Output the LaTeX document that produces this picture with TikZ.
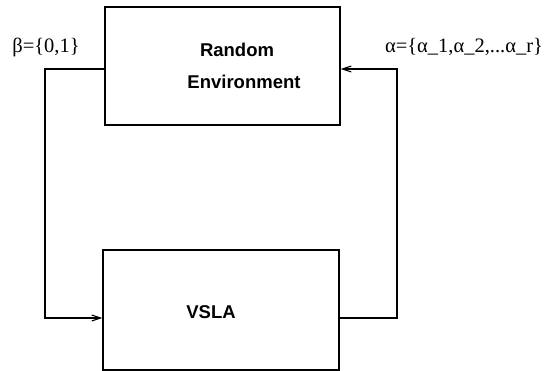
\documentclass[tikz,border=0pt]{standalone}
\usepackage{fontspec}
\setmainfont{Liberation Serif}
\newfontfamily\boxfont{Liberation Sans}
\usetikzlibrary{arrows.meta}
\begin{document}
\begin{tikzpicture}[x=1pt,y=-1pt,
  blockbox/.style={draw,line width=1.1pt,inner sep=0pt},
  blocktext/.style={font=\boxfont\bfseries\fontsize{18.5}{22}\selectfont,inner sep=0pt},
  labeltext/.style={font=\fontsize{20.5}{24}\selectfont,inner sep=0pt},
  conn/.style={line width=1.1pt},
  tip/.style={-{Straight Barb[length=9pt,width=6pt,line width=1.1pt]}}]
\useasboundingbox (0,0) rectangle (546,371);
\node[blockbox,minimum width=235pt,minimum height=118pt] (env) at (222.5,66) {};
\node[blockbox,minimum width=236pt,minimum height=120pt] (vsla) at (221,310) {};
\node[blocktext] (t1) at (237,50) {Random};
\node[blocktext] (t2) at (244,82) {Environment};
\node[blocktext] (t3) at (211,312) {VSLA};
\node[labeltext] (beta) at (46,47) {β=\{0,1\}};
\node[labeltext] (alpha) at (464,47) {α=\{α\_1,α\_2,...α\_r\}};
\coordinate (lt) at (45,69);
\coordinate (lb) at (45,318);
\coordinate (rt) at (397,69);
\coordinate (rb) at (397,318);
\draw[conn,tip] (env.west |- lt) -- (lt) -- (lb) -- (vsla.west |- lb);
\draw[conn,tip] (vsla.east |- rb) -- (rb) -- (rt) -- (env.east |- rt);
\end{tikzpicture}
\end{document}
